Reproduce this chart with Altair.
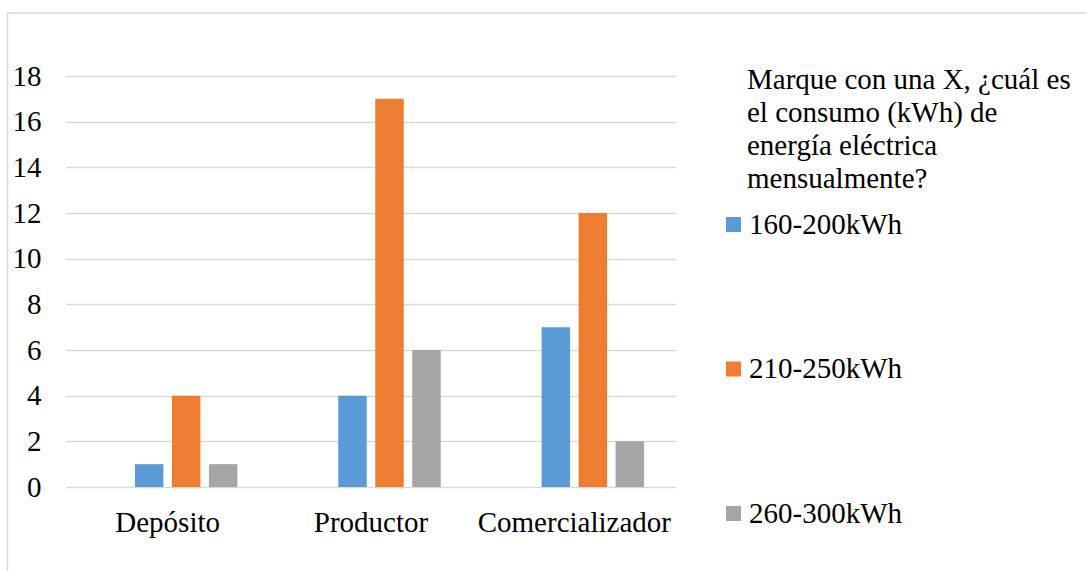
import altair as alt
import pandas as pd

# Survey answers: monthly electricity consumption by business type
categories = ["Depósito", "Productor", "Comercializador"]
series = ["160-200kWh", "210-250kWh", "260-300kWh"]
values_160_200 = [1, 4, 7]
values_210_250 = [4, 17, 12]
values_260_300 = [1, 6, 2]
colors = ["#5B9BD5", "#ED7D31", "#A5A5A5"]
y_ticks = [0, 2, 4, 6, 8, 10, 12, 14, 16, 18]
legend_title = ["Marque con una X, ¿cuál es", "el consumo (kWh) de",
                "energía eléctrica", "mensualmente?"]

rows = []
for name, vals in zip(series, [values_160_200, values_210_250, values_260_300]):
    for cat, v in zip(categories, vals):
        rows.append({"categoria": cat, "rango": name, "valor": v})
df = pd.DataFrame(rows)

FONT = "Liberation Serif"
FS = 29
W, H = 610, 411
LEFT, TOP = 66, 76

bars = alt.Chart(df).mark_bar().encode(
    x=alt.X("categoria:N", sort=categories, title=None,
            scale=alt.Scale(paddingInner=0.314, paddingOuter=0.157),
            axis=alt.Axis(labelAngle=0, labelFont=FONT, labelFontSize=FS,
                          labelColor="#000000", labelPadding=21, labelLimit=400,
                          ticks=False, domain=False)),
    xOffset=alt.XOffset("rango:N", sort=series,
                        scale=alt.Scale(paddingInner=0.23, paddingOuter=0.5, align=1)),
    y=alt.Y("valor:Q", title=None,
            scale=alt.Scale(domain=[0, 18], nice=False),
            axis=alt.Axis(values=y_ticks, labelFont=FONT, labelFontSize=FS,
                          labelColor="#000000", labelPadding=25,
                          ticks=False, domain=False,
                          grid=True, gridColor="#d9d9d9", gridWidth=1.5)),
    color=alt.Color("rango:N", sort=series,
                    scale=alt.Scale(domain=series, range=colors),
                    legend=alt.Legend(title=None, orient="none",
                                      legendX=653, legendY=134,
                                      symbolType="square", symbolSize=225,
                                      symbolStrokeWidth=0,
                                      labelFont=FONT, labelFontSize=FS,
                                      labelColor="#000000", labelOffset=1,
                                      rowPadding=114.5, labelLimit=300)),
)

# Legend heading, set beside the plot area
heading = alt.Chart(pd.DataFrame({"t": ["\n".join(legend_title)]})).mark_text(
    align="left", baseline="alphabetic", font=FONT, fontSize=FS,
    lineHeight=33, color="#000000", lineBreak="\n"
).encode(x=alt.value(681), y=alt.value(13), text="t:N")

# Outer chart frame
frame = alt.Chart(pd.DataFrame({"a": [0]})).mark_rect(
    fill=None, stroke="#d9d9d9", strokeWidth=1.5
).encode(x=alt.value(7.5 - LEFT), y=alt.value(13 - TOP),
         x2=alt.value(1200), y2=alt.value(700))

chart = alt.layer(frame, bars, heading).properties(
    width=W, height=H,
    padding={"left": LEFT, "top": TOP, "right": 1087 - LEFT - W, "bottom": 571 - TOP - H},
    autosize=alt.AutoSizeParams(type="none"),
    background="#ffffff",
).configure(font=FONT).configure_view(stroke=None)

chart.save("out.html", embed_options={"renderer": "svg", "actions": False})
